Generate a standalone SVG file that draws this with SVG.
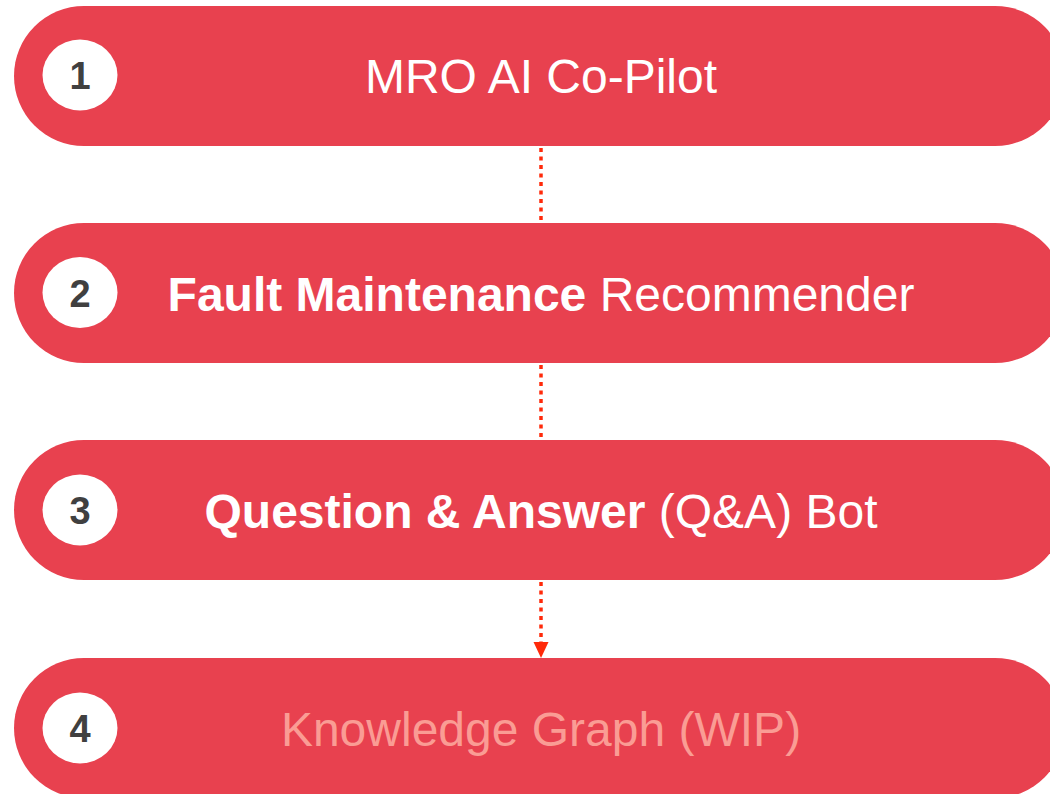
<svg xmlns="http://www.w3.org/2000/svg" width="1050" height="794" viewBox="0 0 1050 794">
<style>
.pill{fill:#E8414F}
.badge{fill:#FFFFFF}
.num{font-family:"Liberation Sans",Arial,sans-serif;font-weight:bold;font-size:38px;fill:#404040;text-anchor:middle}
.lbl{font-family:"Liberation Sans",Arial,sans-serif;font-size:48px;fill:#FFFFFF;text-anchor:middle}
.b{font-weight:bold}
.wip{fill:#FA9C94}
.conn{stroke:#FF2A0A;stroke-width:3.5;stroke-dasharray:4 4.5;fill:none}
.head{fill:#FF2A0A}
</style>
<g id="connectors">
<line class="conn" x1="541" y1="148" x2="541" y2="223"/>
<line class="conn" x1="541" y1="365" x2="541" y2="440"/>
<line class="conn" x1="541" y1="582" x2="541" y2="642"/>
<path class="head" d="M533.5,642 L548.5,642 L541,658 Z"/>
</g>
<g id="node1">
<rect class="pill" x="14" y="6" width="1051" height="140" rx="70"/>
<ellipse class="badge" cx="80" cy="75" rx="37.5" ry="35.5"/>
<text class="num" x="80" y="89">1</text>
<text class="lbl" x="541" y="93">MRO AI Co-Pilot</text>
</g>
<g id="node2">
<rect class="pill" x="14" y="223" width="1051" height="140" rx="70"/>
<ellipse class="badge" cx="80" cy="292.5" rx="37.5" ry="35.5"/>
<text class="num" x="80" y="306.5">2</text>
<text class="lbl" x="541" y="311"><tspan class="b">Fault Maintenance</tspan> Recommender</text>
</g>
<g id="node3">
<rect class="pill" x="14" y="440" width="1051" height="140" rx="70"/>
<ellipse class="badge" cx="80" cy="510" rx="37.5" ry="35.5"/>
<text class="num" x="80" y="524">3</text>
<text class="lbl" x="541" y="528"><tspan class="b">Question &amp; Answer</tspan> (Q&amp;A) Bot</text>
</g>
<g id="node4">
<rect class="pill" x="14" y="658" width="1051" height="140" rx="70"/>
<ellipse class="badge" cx="80" cy="728" rx="37.5" ry="35.5"/>
<text class="num" x="80" y="742">4</text>
<text class="lbl wip" x="541" y="746">Knowledge Graph (WIP)</text>
</g>
</svg>
